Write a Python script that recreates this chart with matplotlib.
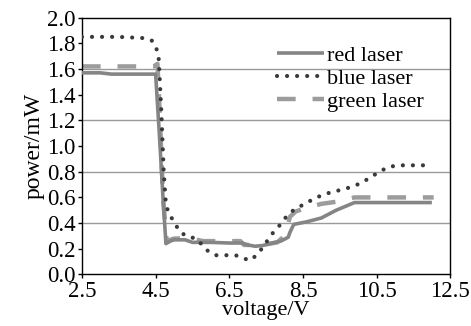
import matplotlib
matplotlib.use("Agg")
import matplotlib.pyplot as plt
import numpy as np
from matplotlib import rcParams

rcParams.update({"font.family": "Liberation Serif", "font.size": 16})

# --- dados ---
red_v = [2.5, 3.0, 3.3, 4.0, 4.5, 4.6, 4.7, 4.78, 4.9, 5.0, 5.3, 5.5, 6.0, 6.5, 6.85,
         7.0, 7.2, 7.4, 7.6, 7.9, 8.1, 8.15, 8.25, 8.6, 9.0, 9.4, 9.9, 10.5, 11.0, 12.0]
red_p = [1.57, 1.57, 1.56, 1.56, 1.56, 1.10, 0.60, 0.24, 0.26, 0.27, 0.27, 0.25, 0.25, 0.245, 0.245,
         0.23, 0.22, 0.225, 0.24, 0.26, 0.29, 0.33, 0.39, 0.41, 0.44, 0.50, 0.56, 0.56, 0.56, 0.56]

blue_v = [2.5, 3.5, 4.2, 4.4, 4.5, 4.58, 4.65, 4.72, 4.78, 4.87, 5.0, 5.14, 5.32, 5.59, 5.77,
          5.93, 6.13, 6.4, 6.67, 6.89, 7.07, 7.28, 7.55, 7.70, 7.86, 8.02, 8.19, 8.42, 8.87,
          9.14, 9.41, 9.68, 9.90, 10.13, 10.35, 10.58, 10.80, 11.07, 11.95]
blue_p = [1.85, 1.85, 1.84, 1.82, 1.78, 1.70, 1.30, 0.80, 0.54, 0.47, 0.41, 0.34, 0.30, 0.28, 0.23,
          0.18, 0.15, 0.15, 0.15, 0.125, 0.11, 0.16, 0.27, 0.33, 0.38, 0.44, 0.49, 0.53, 0.60,
          0.63, 0.65, 0.67, 0.69, 0.72, 0.76, 0.80, 0.835, 0.85, 0.85]

green_v = [2.5, 4.45, 4.55, 4.62, 4.7, 4.8, 5.0, 5.4, 5.8, 6.8, 6.9, 7.3, 7.5, 7.8, 8.0,
           8.15, 8.3, 8.6, 9.0, 9.5, 9.9, 10.5, 11.0, 12.05]
green_p = [1.62, 1.62, 1.64, 1.20, 0.60, 0.26, 0.28, 0.28, 0.26, 0.26, 0.23, 0.23, 0.235, 0.25, 0.30,
           0.45, 0.49, 0.52, 0.55, 0.57, 0.60, 0.60, 0.60, 0.60]

x_ticks = [2.5, 4.5, 6.5, 8.5, 10.5, 12.5]
y_ticks = np.round(np.arange(0, 2.01, 0.2), 1)
grid_y = [0.4, 0.8, 1.2, 1.6]

fig = plt.figure(figsize=(4.71, 3.26), dpi=100)
ax = fig.add_axes([0.174, 0.158, 0.782, 0.788])

# linhas de grade horizontais
for g in grid_y:
    ax.axhline(g, color="#9a9a9a", lw=1.0, zorder=0)

ax.plot(red_v, red_p, color="#858585", lw=2.6, solid_capstyle="butt", label="red laser", zorder=3)
ax.plot(blue_v, blue_p, color="#3a3a3a", lw=3.0, linestyle=(0, (0.01, 2.4)),
        dash_capstyle="round", label="blue laser", zorder=4)
ax.plot(green_v, green_p, color="#9c9c9c", lw=3.2, linestyle=(0, (4.2, 3.8)),
        label="green laser", zorder=2)

ax.set_xlim(2.5, 12.5)
ax.set_ylim(0, 2.0)
ax.set_xticks(x_ticks)
ax.set_xticklabels([f"{t:.1f}" for t in x_ticks])
ax.set_yticks(y_ticks)
ax.set_yticklabels([f"{t:.1f}" for t in y_ticks])
ax.tick_params(direction="out", length=3, width=1, pad=1.5, labelsize=16.5)
ax.tick_params(axis="x", pad=2)
for s in ax.spines.values():
    s.set_linewidth(1.0)

ax.set_xlabel("voltage/V", labelpad=-1, fontsize=16)
ax.set_ylabel("power/mW", labelpad=2, fontsize=17)

ax.legend(loc="upper left", bbox_to_anchor=(0.5, 0.935), frameon=False, borderpad=0,
          handlelength=2.1, handletextpad=0.15, labelspacing=0.1, fontsize=16)

fig.savefig("out.png", dpi=100)
